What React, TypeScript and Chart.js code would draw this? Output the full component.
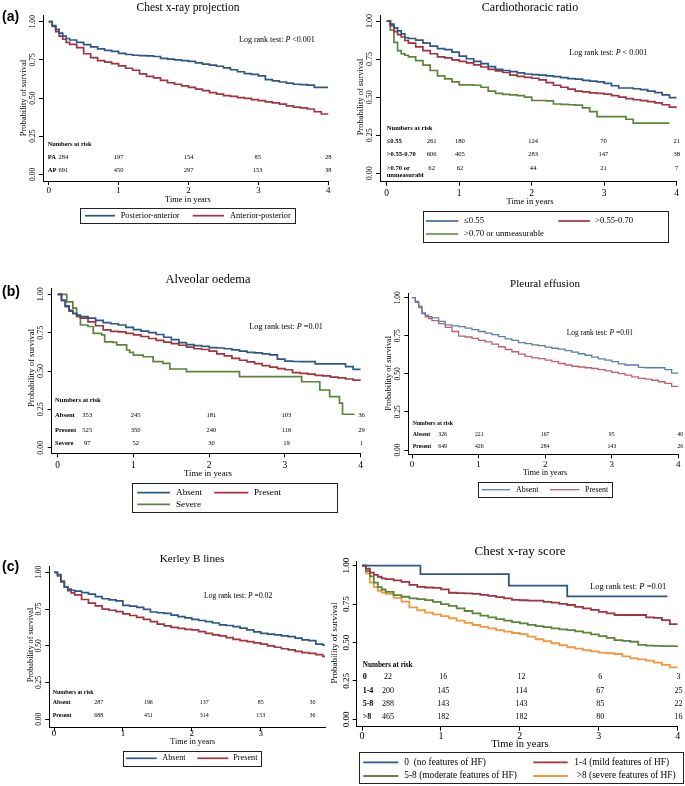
import React, { useEffect, useRef } from "react";
import { Chart, registerables } from "chart.js";
Chart.register(...registerables);

const W = 685;
const H = 786;
const X_SCALE_H = 22;
const SERIF = '"Liberation Serif", "Times New Roman", serif';
const SANS = '"Liberation Sans", Arial, sans-serif';

const BLUE = "#2c5787";
const RED = "#a3333f";
const GREEN = "#5a853a";
const ORANGE = "#f2993f";
const BLUE_L = "#5a7fa8";
const RED_L = "#c0606a";

// ---------- DATA ----------
const TIMES = [0, 0.05, 0.1, 0.15, 0.2, 0.25, 0.3, 0.4, 0.5, 0.6, 0.7, 0.8, 0.9, 1.0, 1.1, 1.2, 1.3, 1.4, 1.5, 1.6, 1.7, 1.8, 1.9, 2.0, 2.1, 2.2, 2.3, 2.4, 2.5, 2.6, 2.7, 2.8, 2.9, 3.0, 3.1, 3.2, 3.3, 3.4, 3.5, 3.6, 3.7, 3.8, 3.9, 4.0];
const KERLEY_TIMES = [0, 0.05, 0.1, 0.15, 0.2, 0.25, 0.3, 0.4, 0.5, 0.6, 0.7, 0.8, 0.9, 1.0, 1.1, 1.2, 1.3, 1.4, 1.5, 1.6, 1.7, 1.8, 1.9, 2.0, 2.1, 2.2, 2.3, 2.4, 2.5, 2.6, 2.7, 2.8, 2.9, 3.0, 3.1, 3.2, 3.3, 3.4, 3.5, 3.6, 3.7, 3.8, 3.9, 3.92];
const X_TICKS_4 = [0, 1, 2, 3, 4];
const X_TICKS_3 = [0, 1, 2, 3];
const Y_TICKS = [0, 0.25, 0.5, 0.75, 1];
const Y_TICK_LABELS = ["0.00", "0.25", "0.50", "0.75", "1.00"];

// (a) Chest x-ray projection
const projPA = [1, 0.975, 0.95, 0.925, 0.905, 0.89, 0.88, 0.865, 0.85, 0.835, 0.822, 0.812, 0.805, 0.792, 0.785, 0.78, 0.778, 0.776, 0.772, 0.76, 0.755, 0.75, 0.745, 0.74, 0.73, 0.722, 0.715, 0.708, 0.698, 0.685, 0.672, 0.66, 0.655, 0.645, 0.62, 0.612, 0.605, 0.598, 0.59, 0.588, 0.585, 0.57, 0.57, 0.57];
const projAP = [1, 0.97, 0.935, 0.905, 0.885, 0.865, 0.852, 0.83, 0.79, 0.765, 0.745, 0.735, 0.725, 0.71, 0.695, 0.682, 0.658, 0.642, 0.632, 0.615, 0.6, 0.59, 0.58, 0.57, 0.558, 0.548, 0.535, 0.525, 0.515, 0.51, 0.503, 0.498, 0.49, 0.483, 0.475, 0.468, 0.46, 0.448, 0.44, 0.435, 0.428, 0.41, 0.395, 0.39];
const projRiskPA = [284, 197, 154, 85, 28];
const projRiskAP = [691, 450, 297, 153, 38];

// (a) Cardiothoracic ratio
const ctrLow = [1, 0.98, 0.955, 0.935, 0.915, 0.89, 0.885, 0.875, 0.855, 0.835, 0.818, 0.812, 0.795, 0.77, 0.752, 0.735, 0.72, 0.7, 0.682, 0.675, 0.668, 0.66, 0.652, 0.648, 0.645, 0.64, 0.635, 0.628, 0.622, 0.618, 0.61, 0.605, 0.6, 0.59, 0.575, 0.56, 0.56, 0.555, 0.55, 0.54, 0.53, 0.515, 0.497, 0.497];
const ctrMid = [1, 0.97, 0.93, 0.91, 0.895, 0.872, 0.855, 0.83, 0.805, 0.785, 0.765, 0.758, 0.745, 0.735, 0.725, 0.712, 0.698, 0.683, 0.672, 0.662, 0.645, 0.636, 0.63, 0.624, 0.613, 0.595, 0.578, 0.565, 0.553, 0.54, 0.535, 0.528, 0.525, 0.52, 0.51, 0.5, 0.49, 0.483, 0.477, 0.47, 0.462, 0.45, 0.435, 0.427];
const ctrHigh = [1, 0.94, 0.86, 0.805, 0.785, 0.775, 0.765, 0.74, 0.71, 0.675, 0.64, 0.62, 0.6, 0.58, 0.58, 0.578, 0.565, 0.54, 0.525, 0.518, 0.515, 0.51, 0.5, 0.478, 0.478, 0.476, 0.455, 0.452, 0.45, 0.448, 0.43, 0.405, 0.372, 0.372, 0.372, 0.372, 0.355, 0.33, 0.33, 0.33, 0.33, 0.33, 0.33, null];
const ctrRiskLow = [261, 180, 124, 70, 21];
const ctrRiskMid = [606, 405, 283, 147, 38];
const ctrRiskHigh = [62, 62, 44, 21, 7];

// (b) Alveolar oedema
const oedAbsent = [1, 0.96, 0.925, 0.895, 0.875, 0.865, 0.855, 0.845, 0.83, 0.815, 0.808, 0.8, 0.785, 0.77, 0.76, 0.75, 0.738, 0.72, 0.705, 0.685, 0.672, 0.665, 0.66, 0.652, 0.65, 0.645, 0.638, 0.63, 0.622, 0.618, 0.612, 0.605, 0.578, 0.565, 0.562, 0.561, 0.561, 0.546, 0.546, 0.546, 0.546, 0.528, 0.511, 0.511];
const oedPresent = [1, 0.96, 0.92, 0.89, 0.875, 0.86, 0.845, 0.82, 0.795, 0.768, 0.758, 0.755, 0.745, 0.735, 0.725, 0.712, 0.7, 0.688, 0.678, 0.668, 0.655, 0.645, 0.64, 0.63, 0.612, 0.598, 0.582, 0.57, 0.56, 0.548, 0.535, 0.525, 0.515, 0.508, 0.489, 0.485, 0.479, 0.472, 0.468, 0.46, 0.455, 0.448, 0.44, 0.437];
const oedSevereTimes = [0, 0.12, 0.2, 0.25, 0.3, 0.4, 0.47, 0.58, 0.62, 0.73, 0.78, 0.91, 0.95, 1.0, 1.13, 1.26, 1.39, 1.48, 1.7, 2.4, 3.22, 3.46, 3.59, 3.72, 3.76, 3.92];
const oedSevere = [1, 0.95, 0.91, 0.855, 0.8, 0.79, 0.745, 0.735, 0.69, 0.687, 0.67, 0.637, 0.622, 0.604, 0.593, 0.561, 0.55, 0.513, 0.496, 0.463, 0.43, 0.376, 0.333, 0.29, 0.218, 0.218];
const oedRiskAbsent = [353, 245, 181, 103, 36];
const oedRiskPresent = [525, 350, 240, 116, 29];
const oedRiskSevere = [97, 52, 30, 19, 1];

// (b) Pleural effusion
const pleAbsent = [1, 0.975, 0.945, 0.9, 0.885, 0.875, 0.868, 0.845, 0.822, 0.815, 0.81, 0.8, 0.79, 0.778, 0.768, 0.758, 0.745, 0.73, 0.72, 0.705, 0.698, 0.69, 0.685, 0.675, 0.668, 0.662, 0.652, 0.642, 0.632, 0.622, 0.61, 0.598, 0.59, 0.58, 0.565, 0.558, 0.558, 0.542, 0.54, 0.54, 0.54, 0.528, 0.505, 0.503];
const plePresent = [1, 0.97, 0.935, 0.895, 0.875, 0.862, 0.85, 0.83, 0.805, 0.778, 0.748, 0.742, 0.733, 0.72, 0.71, 0.695, 0.678, 0.66, 0.645, 0.63, 0.615, 0.605, 0.6, 0.59, 0.58, 0.568, 0.558, 0.55, 0.545, 0.54, 0.535, 0.528, 0.52, 0.51, 0.502, 0.492, 0.48, 0.47, 0.465, 0.458, 0.448, 0.438, 0.418, 0.416];
const pleRiskAbsent = [326, 221, 167, 95, 40];
const pleRiskPresent = [649, 426, 284, 143, 26];

// (c) Kerley B lines
const kerAbsent = [1, 0.985, 0.94, 0.9, 0.885, 0.878, 0.872, 0.862, 0.852, 0.835, 0.82, 0.812, 0.805, 0.775, 0.77, 0.762, 0.748, 0.73, 0.725, 0.72, 0.708, 0.698, 0.69, 0.68, 0.672, 0.665, 0.655, 0.642, 0.638, 0.63, 0.62, 0.608, 0.595, 0.585, 0.58, 0.575, 0.568, 0.562, 0.552, 0.54, 0.535, 0.512, 0.505, 0.5];
const kerPresent = [1, 0.975, 0.935, 0.9, 0.875, 0.86, 0.846, 0.815, 0.79, 0.771, 0.75, 0.742, 0.732, 0.717, 0.706, 0.694, 0.68, 0.664, 0.648, 0.635, 0.625, 0.619, 0.612, 0.608, 0.596, 0.585, 0.575, 0.567, 0.556, 0.544, 0.535, 0.528, 0.52, 0.512, 0.5, 0.49, 0.48, 0.472, 0.462, 0.454, 0.448, 0.44, 0.428, 0.422];
const kerRiskAbsent = [287, 196, 137, 85, 30];
const kerRiskPresent = [688, 451, 314, 153, 36];

// (c) Chest x-ray score
const scoreZeroTimes = [0, 0.74, 1.86, 2.6, 3.87];
const scoreZero = [1, 0.945, 0.87, 0.8, 0.8];
const scoreMild = [1, 0.98, 0.955, 0.94, 0.928, 0.918, 0.912, 0.905, 0.895, 0.875, 0.862, 0.858, 0.855, 0.846, 0.824, 0.822, 0.82, 0.816, 0.81, 0.803, 0.795, 0.787, 0.777, 0.775, 0.773, 0.772, 0.765, 0.76, 0.752, 0.744, 0.732, 0.722, 0.712, 0.7, 0.69, 0.679, 0.679, 0.679, 0.679, 0.664, 0.66, 0.646, 0.62, 0.62];
const scoreModerate = [1, 0.965, 0.93, 0.89, 0.86, 0.845, 0.83, 0.809, 0.798, 0.787, 0.782, 0.776, 0.765, 0.75, 0.738, 0.722, 0.705, 0.69, 0.675, 0.664, 0.652, 0.642, 0.632, 0.625, 0.615, 0.607, 0.6, 0.592, 0.586, 0.581, 0.572, 0.564, 0.553, 0.542, 0.53, 0.516, 0.51, 0.505, 0.484, 0.48, 0.478, 0.477, 0.477, 0.469];
const scoreSevere = [1, 0.95, 0.89, 0.86, 0.837, 0.825, 0.816, 0.79, 0.766, 0.729, 0.71, 0.695, 0.683, 0.672, 0.658, 0.642, 0.628, 0.614, 0.602, 0.592, 0.58, 0.571, 0.562, 0.555, 0.538, 0.521, 0.508, 0.495, 0.482, 0.469, 0.46, 0.451, 0.442, 0.434, 0.43, 0.425, 0.41, 0.397, 0.39, 0.382, 0.369, 0.354, 0.338, 0.332];
const scoreRiskZero = [22, 16, 12, 6, 3];
const scoreRiskMild = [200, 145, 114, 67, 25];
const scoreRiskModerate = [288, 143, 143, 85, 22];
const scoreRiskSevere = [465, 182, 182, 80, 16];

// ---------- PANEL LAYOUT ----------
type Series = { color: string; times: number[]; values: (number | null)[] };
type LegendItem = { color: string; sx1: number; sx2: number; tx: number; y: number; text: string };
type Panel = {
  left: number; top: number; right: number; bottom: number;
  x0px: number; xRefVal: number; xRefPx: number; y0px: number; y1px: number;
  xTicks: number[]; lw: number; series: Series[];
  title: { text: string; x: number; y: number; size: number };
  tag?: { text: string; x: number; y: number };
  yTickX: number; yTickSize: number; yTitle: { x: number; y: number; size: number };
  xTickY: number; xTickSize: number; xTitle: { x: number; y: number; size: number };
  logRank: { x: number; y: number; size: number; rest: string };
  risk: { x: number; headerY: number; headerSize: number; size: number; colTimes: number[]; rows: { label: string; y: number; nums: number[] }[] };
  legend: { box: [number, number, number, number]; size: number; items: LegendItem[] };
};

const PANELS: Panel[] = [
  {
    left: 43, top: 15, right: 328.3, bottom: 181,
    x0px: 48.7, xRefVal: 4, xRefPx: 328.3, y0px: 174.3, y1px: 21.7,
    xTicks: X_TICKS_4, lw: 1.7,
    series: [
      { color: BLUE, times: TIMES, values: projPA },
      { color: RED, times: TIMES, values: projAP },
    ],
    title: { text: "Chest x-ray projection", x: 188, y: 8, size: 11.5 },
    tag: { text: "(a)", x: 2, y: 17 },
    yTickX: 33.3, yTickSize: 7.6, yTitle: { x: 24, y: 98, size: 8.5 },
    xTickY: 190.7, xTickSize: 9, xTitle: { x: 188, y: 199.5, size: 8.4 },
    logRank: { x: 239, y: 39.5, size: 8, rest: " <0.001" },
    risk: {
      x: 47.7, headerY: 144, headerSize: 6.3, size: 6.5, colTimes: [0.21, 1, 2, 2.99, 4],
      rows: [
        { label: "PA", y: 157, nums: projRiskPA },
        { label: "AP", y: 170, nums: projRiskAP },
      ],
    },
    legend: {
      box: [80, 208, 295, 223], size: 8.4,
      items: [
        { color: BLUE, sx1: 85, sx2: 115, tx: 120.7, y: 215.7, text: "Posterior-anterior" },
        { color: RED, sx1: 192.7, sx2: 224, tx: 230, y: 215.7, text: "Anterior-posterior" },
      ],
    },
  },
  {
    left: 380, top: 15, right: 676.7, bottom: 181.7,
    x0px: 386.7, xRefVal: 4, xRefPx: 676.7, y0px: 173.3, y1px: 21,
    xTicks: X_TICKS_4, lw: 1.7,
    series: [
      { color: BLUE, times: TIMES, values: ctrLow },
      { color: RED, times: TIMES, values: ctrMid },
      { color: GREEN, times: TIMES, values: ctrHigh },
    ],
    title: { text: "Cardiothoracic ratio", x: 530, y: 7.5, size: 12 },
    yTickX: 370, yTickSize: 8, yTitle: { x: 360.7, y: 97, size: 8.5 },
    xTickY: 193.3, xTickSize: 9.5, xTitle: { x: 530, y: 202, size: 8.6 },
    logRank: { x: 569.3, y: 53.3, size: 8, rest: " < 0.001" },
    risk: {
      x: 386.7, headerY: 128, headerSize: 6.6, size: 6.6, colTimes: [0.62, 1.01, 2.02, 2.99, 4],
      rows: [
        { label: "≤0.55", y: 141, nums: ctrRiskLow },
        { label: ">0.55-0.70", y: 154, nums: ctrRiskMid },
        { label: ">0.70 or\nunmeasurabl", y: 168, nums: ctrRiskHigh },
      ],
    },
    legend: {
      box: [422.7, 211, 668, 242], size: 8.7,
      items: [
        { color: BLUE, sx1: 426, sx2: 458.3, tx: 464, y: 221, text: "≤0.55" },
        { color: RED, sx1: 558.3, sx2: 590, tx: 595, y: 221, text: ">0.55-0.70" },
        { color: GREEN, sx1: 426, sx2: 458.3, tx: 464, y: 234, text: ">0.70 or unmeasurable" },
      ],
    },
  },
  {
    left: 51.7, top: 288.3, right: 360.7, bottom: 453.3,
    x0px: 57.7, xRefVal: 4, xRefPx: 360.7, y0px: 447.7, y1px: 294.3,
    xTicks: X_TICKS_4, lw: 1.7,
    series: [
      { color: BLUE, times: TIMES, values: oedAbsent },
      { color: RED, times: TIMES, values: oedPresent },
      { color: GREEN, times: oedSevereTimes, values: oedSevere },
    ],
    title: { text: "Alveolar oedema", x: 208, y: 280, size: 12.4 },
    tag: { text: "(b)", x: 2, y: 291.7 },
    yTickX: 40.7, yTickSize: 8, yTitle: { x: 31.7, y: 368, size: 8.7 },
    xTickY: 465, xTickSize: 9.5, xTitle: { x: 208, y: 473.5, size: 8.8 },
    logRank: { x: 249.3, y: 326.7, size: 8.2, rest: " =0.01" },
    risk: {
      x: 55, headerY: 400, headerSize: 6.6, size: 6.6, colTimes: [0.39, 1.03, 2.03, 3.02, 4.01],
      rows: [
        { label: "Absent", y: 415, nums: oedRiskAbsent },
        { label: "Present", y: 430, nums: oedRiskPresent },
        { label: "Severe", y: 443.3, nums: oedRiskSevere },
      ],
    },
    legend: {
      box: [132.3, 483.3, 337.7, 512.3], size: 9.2,
      items: [
        { color: BLUE, sx1: 137.3, sx2: 170, tx: 176, y: 492.7, text: "Absent" },
        { color: RED, sx1: 214.3, sx2: 248.3, tx: 254, y: 492.7, text: "Present" },
        { color: GREEN, sx1: 137.3, sx2: 170, tx: 176, y: 504.3, text: "Severe" },
      ],
    },
  },
  {
    left: 408.3, top: 293.3, right: 678.3, bottom: 454.3,
    x0px: 412, xRefVal: 4, xRefPx: 678.3, y0px: 450, y1px: 297.7,
    xTicks: X_TICKS_4, lw: 1.3,
    series: [
      { color: BLUE_L, times: TIMES, values: pleAbsent },
      { color: RED_L, times: TIMES, values: plePresent },
    ],
    title: { text: "Pleural effusion", x: 545, y: 284.3, size: 11 },
    yTickX: 398.3, yTickSize: 7.5, yTitle: { x: 389.3, y: 373.3, size: 8.3 },
    xTickY: 465, xTickSize: 9, xTitle: { x: 545, y: 473.3, size: 8.1 },
    logRank: { x: 566.7, y: 332.7, size: 7.4, rest: " =0.01" },
    risk: {
      x: 412.7, headerY: 423.3, headerSize: 5.8, size: 5.8, colTimes: [0.46, 1.01, 2.0, 3.0, 4.03],
      rows: [
        { label: "Absent", y: 434.3, nums: pleRiskAbsent },
        { label: "Present", y: 446.7, nums: pleRiskPresent },
      ],
    },
    legend: {
      box: [477.7, 482.3, 611.7, 497.3], size: 7.9,
      items: [
        { color: BLUE_L, sx1: 481.7, sx2: 510, tx: 516, y: 489.7, text: "Absent" },
        { color: RED_L, sx1: 550, sx2: 579.3, tx: 585, y: 489.7, text: "Present" },
      ],
    },
  },
  {
    left: 49.3, top: 566.7, right: 325, bottom: 727.3,
    x0px: 54, xRefVal: 3, xRefPx: 260.7, y0px: 719.3, y1px: 572.3,
    xTicks: X_TICKS_3, lw: 1.7,
    series: [
      { color: BLUE, times: KERLEY_TIMES, values: kerAbsent },
      { color: RED, times: KERLEY_TIMES, values: kerPresent },
    ],
    title: { text: "Kerley B lines", x: 192, y: 559.3, size: 11.2 },
    tag: { text: "(c)", x: 2, y: 566.7 },
    yTickX: 39.3, yTickSize: 7.5, yTitle: { x: 30.7, y: 645, size: 8.3 },
    xTickY: 733.3, xTickSize: 9, xTitle: { x: 192.7, y: 741.7, size: 8.2 },
    logRank: { x: 204, y: 596, size: 7.6, rest: " =0.02" },
    risk: {
      x: 52.7, headerY: 692.3, headerSize: 5.9, size: 5.9, colTimes: [0.65, 1.37, 2.18, 3.0, 3.75],
      rows: [
        { label: "Absent", y: 702.3, nums: kerRiskAbsent },
        { label: "Present", y: 715, nums: kerRiskPresent },
      ],
    },
    legend: {
      box: [122.7, 750.7, 261, 766], size: 8.2,
      items: [
        { color: BLUE, sx1: 126, sx2: 156.7, tx: 162.3, y: 758.3, text: "Absent" },
        { color: RED, sx1: 197.3, sx2: 228.3, tx: 233.3, y: 758.3, text: "Present" },
      ],
    },
  },
  {
    left: 356.7, top: 561.7, right: 677.7, bottom: 726.7,
    x0px: 362, xRefVal: 4, xRefPx: 677.7, y0px: 719.3, y1px: 565.7,
    xTicks: X_TICKS_4, lw: 1.8,
    series: [
      { color: BLUE, times: scoreZeroTimes, values: scoreZero },
      { color: RED, times: TIMES, values: scoreMild },
      { color: GREEN, times: TIMES, values: scoreModerate },
      { color: ORANGE, times: TIMES, values: scoreSevere },
    ],
    title: { text: "Chest x-ray score", x: 520, y: 551.7, size: 13 },
    yTickX: 346.7, yTickSize: 9, yTitle: { x: 335, y: 643, size: 9 },
    xTickY: 736, xTickSize: 10, xTitle: { x: 520, y: 744.5, size: 10.5 },
    logRank: { x: 590, y: 586.7, size: 8.5, rest: " =0.01" },
    risk: {
      x: 362.7, headerY: 665, headerSize: 7.2, size: 8, colTimes: [0.33, 1.03, 2.02, 3.02, 4.01],
      rows: [
        { label: "0", y: 676.7, nums: scoreRiskZero },
        { label: "1-4", y: 690.7, nums: scoreRiskMild },
        { label: "5-8", y: 704, nums: scoreRiskModerate },
        { label: ">8", y: 716.7, nums: scoreRiskSevere },
      ],
    },
    legend: {
      box: [359, 752.3, 683.3, 783.3], size: 9.4,
      items: [
        { color: BLUE, sx1: 363.3, sx2: 398.3, tx: 404.3, y: 762.3, text: "0  (no features of HF)" },
        { color: RED, sx1: 533.3, sx2: 567.7, tx: 574.3, y: 762.3, text: "1-4 (mild features of HF)" },
        { color: GREEN, sx1: 363.3, sx2: 398.3, tx: 404.3, y: 776, text: "5-8 (moderate features of HF)" },
        { color: ORANGE, sx1: 533.3, sx2: 567.7, tx: 576.7, y: 776, text: ">8 (severe features of HF)" },
      ],
    },
  },
];

// ---------- DRAWING ----------
function textPlugin(p: Panel) {
  return {
    id: "kmText",
    afterDraw(chart: any) {
      const ctx: CanvasRenderingContext2D = chart.ctx;
      const xs = chart.scales.x;
      const ys = chart.scales.y;
      ctx.save();
      ctx.fillStyle = "#000";
      ctx.textBaseline = "middle";

      // title
      ctx.font = `${p.title.size}px ${SERIF}`;
      ctx.textAlign = "center";
      ctx.fillText(p.title.text, p.title.x, p.title.y);

      // panel tag
      if (p.tag) {
        ctx.font = `bold 14px ${SANS}`;
        ctx.textAlign = "left";
        ctx.fillText(p.tag.text, p.tag.x, p.tag.y);
      }

      // y tick labels (rotated)
      ctx.font = `${p.yTickSize}px ${SERIF}`;
      ctx.textAlign = "center";
      Y_TICKS.forEach((v, i) => {
        const y = ys.getPixelForValue(v);
        ctx.save();
        ctx.translate(p.yTickX, y);
        ctx.rotate(-Math.PI / 2);
        ctx.fillText(Y_TICK_LABELS[i], 0, 0);
        ctx.restore();
      });

      // y title
      ctx.save();
      ctx.font = `${p.yTitle.size}px ${SERIF}`;
      ctx.translate(p.yTitle.x, p.yTitle.y);
      ctx.rotate(-Math.PI / 2);
      ctx.fillText("Probability of survival", 0, 0);
      ctx.restore();

      // x title
      ctx.font = `${p.xTitle.size}px ${SERIF}`;
      ctx.textAlign = "center";
      ctx.fillText("Time in years", p.xTitle.x, p.xTitle.y);

      // log rank
      {
        const { x, y, size, rest } = p.logRank;
        ctx.textAlign = "left";
        ctx.font = `${size}px ${SERIF}`;
        const a = "Log rank test: ";
        ctx.fillText(a, x, y);
        let cx = x + ctx.measureText(a).width;
        ctx.font = `italic ${size}px ${SERIF}`;
        ctx.fillText("P", cx, y);
        cx += ctx.measureText("P").width;
        ctx.font = `${size}px ${SERIF}`;
        ctx.fillText(rest, cx, y);
      }

      // risk table
      {
        const r = p.risk;
        ctx.textAlign = "left";
        ctx.font = `bold ${r.headerSize}px ${SERIF}`;
        ctx.fillText("Numbers at risk", r.x, r.headerY);
        r.rows.forEach((row) => {
          ctx.textAlign = "left";
          ctx.font = `bold ${r.size}px ${SERIF}`;
          const lines = row.label.split("\n");
          lines.forEach((ln, k) => ctx.fillText(ln, r.x, row.y + k * r.size * 1.15));
          ctx.font = `${r.size}px ${SERIF}`;
          ctx.textAlign = "center";
          row.nums.forEach((n, j) => {
            ctx.fillText(String(n), xs.getPixelForValue(r.colTimes[j]), row.y);
          });
        });
      }

      // legend
      {
        const lg = p.legend;
        const [x1, y1, x2, y2] = lg.box;
        ctx.strokeStyle = "#222";
        ctx.lineWidth = 1;
        ctx.strokeRect(Math.round(x1) + 0.5, Math.round(y1) + 0.5, Math.round(x2 - x1), Math.round(y2 - y1));
        ctx.font = `${lg.size}px ${SERIF}`;
        ctx.textAlign = "left";
        lg.items.forEach((it) => {
          ctx.strokeStyle = it.color;
          ctx.lineWidth = p.lw;
          ctx.beginPath();
          ctx.moveTo(it.sx1, it.y);
          ctx.lineTo(it.sx2, it.y);
          ctx.stroke();
          ctx.fillStyle = "#000";
          ctx.fillText(it.text, it.tx, it.y);
        });
      }
      ctx.restore();
    },
  };
}

function makeConfig(p: Panel): any {
  const sx = (p.xRefPx - p.x0px) / p.xRefVal;
  const xmin = -(p.x0px - p.left) / sx;
  const xmax = (p.right - p.x0px) / sx;
  const sy = p.y0px - p.y1px;
  const ymin = -(p.bottom - p.y0px) / sy;
  const ymax = 1 + (p.y1px - p.top) / sy;
  const tickPad = p.xTickY - p.bottom - 4 - (p.xTickSize * 1.2) / 2;
  return {
    type: "line",
    data: {
      datasets: p.series.map((s) => ({
        data: s.times
          .map((t, i) => ({ x: t, y: s.values[i] }))
          .filter((d) => d.y !== null && d.y !== undefined),
        borderColor: s.color,
        borderWidth: p.lw,
        pointRadius: 0,
        stepped: "before",
        fill: false,
        tension: 0,
      })),
    },
    options: {
      responsive: false,
      animation: false,
      events: [],
      layout: {
        padding: { left: p.left, top: p.top, right: W - p.right, bottom: H - p.bottom - X_SCALE_H },
      },
      plugins: { legend: { display: false }, tooltip: { enabled: false }, title: { display: false } },
      scales: {
        x: {
          type: "linear",
          min: xmin,
          max: xmax,
          afterBuildTicks: (s: any) => {
            s.ticks = p.xTicks.map((v) => ({ value: v }));
          },
          afterFit: (s: any) => {
            s.height = X_SCALE_H;
          },
          grid: { drawOnChartArea: false, drawTicks: true, tickLength: 4, color: "#000", lineWidth: 1 },
          border: { display: true, color: "#000", width: 1 },
          ticks: {
            color: "#000",
            font: { family: SERIF, size: p.xTickSize },
            padding: tickPad,
            maxRotation: 0,
            minRotation: 0,
            autoSkip: false,
            callback: (v: any) => String(v),
          },
        },
        y: {
          type: "linear",
          min: ymin,
          max: ymax,
          afterBuildTicks: (s: any) => {
            s.ticks = Y_TICKS.map((v) => ({ value: v }));
          },
          afterFit: (s: any) => {
            s.width = 0;
          },
          grid: { drawOnChartArea: false, drawTicks: true, tickLength: 4, color: "#000", lineWidth: 1 },
          border: { display: true, color: "#000", width: 1 },
          ticks: { display: false },
        },
      },
    },
    plugins: [textPlugin(p)],
  };
}

function KMPanel({ panel }: { panel: Panel }) {
  const ref = useRef<HTMLCanvasElement | null>(null);
  useEffect(() => {
    if (!ref.current) return;
    const chart = new Chart(ref.current, makeConfig(panel));
    return () => chart.destroy();
  }, [panel]);
  return (
    <canvas
      ref={ref}
      width={W}
      height={H}
      style={{ position: "absolute", left: 0, top: 0, width: W, height: H }}
    />
  );
}

export default function App() {
  return (
    <div
      style={{
        position: "absolute",
        left: 0,
        top: 0,
        width: W,
        height: H,
        background: "#fff",
        overflow: "hidden",
      }}
    >
      {PANELS.map((p, i) => (
        <KMPanel key={i} panel={p} />
      ))}
    </div>
  );
}
